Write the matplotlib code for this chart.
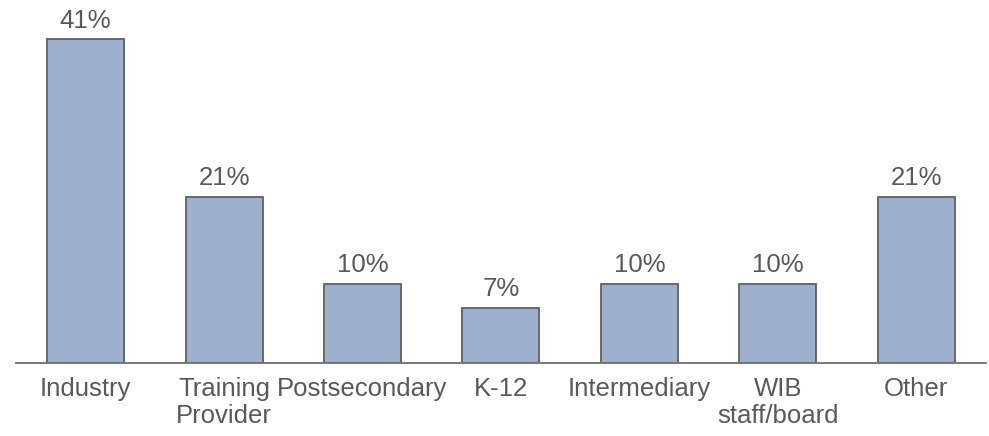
from matplotlib import pyplot as plt

plt.rcParams['font.family'] = ['Liberation Sans', 'DejaVu Sans']

# share of respondents by sector
sectors = ['Industry', 'Training\nProvider', 'Postsecondary', 'K-12',
           'Intermediary', 'WIB\nstaff/board', 'Other']
shares = [41, 21, 10, 7, 10, 10, 21]

fig = plt.figure(figsize=(9.89, 4.36), dpi=100)
ax = fig.add_axes([0.0165, 0.1674, 0.98, 0.8326])

xs = range(len(sectors))
bars = ax.bar(xs, shares, width=0.556, color='#9db0ce',
              edgecolor='#606060', linewidth=1.3)

for b, v in zip(bars, shares):
    ax.annotate(f'{v}%', (b.get_x() + b.get_width() / 2, v),
                xytext=(0, 5), textcoords='offset points',
                ha='center', va='bottom', fontsize=18.5, color='#595959')

ax.set_xlim(-0.5, len(sectors) - 0.5)
ax.set_ylim(0, 46)
ax.set_xticks(list(xs))
ax.set_xticklabels(sectors, fontsize=18.5, color='#595959', linespacing=1.15)
ax.tick_params(axis='x', length=0, pad=10)
ax.set_yticks([])
for s in ['top', 'right', 'left']:
    ax.spines[s].set_visible(False)
ax.spines['bottom'].set_color('#707070')
ax.spines['bottom'].set_linewidth(1.3)

fig.savefig('out.png', dpi=100)
